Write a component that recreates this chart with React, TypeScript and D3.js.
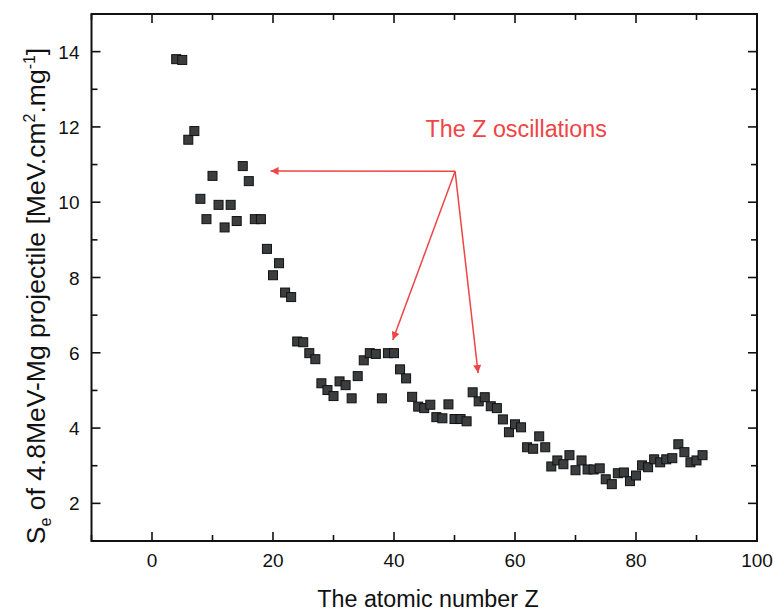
import React from "react";
import * as d3 from "d3";

const atomicNumbers = [
  4, 5, 6, 7, 8, 9, 10, 11, 12, 13, 14, 15, 16, 17, 18, 19, 20, 21, 22, 23,
  24, 25, 26, 27, 28, 29, 30, 31, 32, 33, 34, 35, 36, 37, 38, 39, 40, 41, 42, 43,
  44, 45, 46, 47, 48, 49, 50, 51, 52, 53, 54, 55, 56, 57, 58, 59, 60, 61, 62, 63,
  64, 65, 66, 67, 68, 69, 70, 71, 72, 73, 74, 75, 76, 77, 78, 79, 80, 81, 82, 83,
  84, 85, 86, 87, 88, 89, 90, 91,
];
const stoppingPower = [
  13.8, 13.78, 11.66, 11.89, 10.09, 9.55, 10.7, 9.93, 9.33, 9.93, 9.5, 10.96, 10.56, 9.55, 9.55, 8.76, 8.06, 8.38, 7.6, 7.48,
  6.3, 6.28, 5.99, 5.83, 5.19, 5.01, 4.85, 5.24, 5.14, 4.79, 5.38, 5.8, 5.99, 5.97, 4.79, 5.99, 5.99, 5.56, 5.32, 4.83,
  4.57, 4.53, 4.62, 4.29, 4.26, 4.63, 4.24, 4.24, 4.18, 4.95, 4.71, 4.82, 4.58, 4.53, 4.23, 3.89, 4.1, 4.02, 3.49, 3.45,
  3.78, 3.49, 2.98, 3.14, 3.04, 3.28, 2.88, 3.14, 2.9, 2.9, 2.93, 2.64, 2.51, 2.8, 2.82, 2.59, 2.74, 3.01, 2.96, 3.17,
  3.09, 3.17, 3.2, 3.57, 3.36, 3.09, 3.14, 3.28,
];
const xTicks = [0, 20, 40, 60, 80, 100];
const yTicks = [2, 4, 6, 8, 10, 12, 14];
const annotationText = "The Z oscillations";
// arrow origin and tips, in data units
const arrowOrigin = [50.1, 10.82];
const arrowTips = [
  [19.6, 10.83],
  [39.8, 6.34],
  [53.9, 5.46],
];

const W = 773;
const H = 616;
const FONT = "'Liberation Sans', Arial, sans-serif";
const RED = "#ee4545";

export default function App() {
  const x = d3.scaleLinear().domain([-10, 100]).range([91.5, 757]);
  const y = d3.scaleLinear().domain([1, 15]).range([541, 14]);
  const [x0, x1] = x.range();
  const [y0, y1] = y.range();
  const minorX = d3.range(-10, 101, 10);
  const minorY = d3.range(1, 16, 1);
  const data = atomicNumbers.map((z, i) => ({ z, s: stoppingPower[i] }));
  const ms = 9;
  const ox = x(arrowOrigin[0]);
  const oy = y(arrowOrigin[1]);

  return (
    <svg
      width={W}
      height={H}
      style={{ position: "absolute", left: 0, top: 0, background: "#fff" }}
      fontFamily={FONT}
    >
      <defs>
        <marker id="ah" viewBox="0 0 10 10" refX="10" refY="5" markerWidth="10" markerHeight="8" orient="auto" markerUnits="userSpaceOnUse">
          <path d="M0,0 L10,5 L0,10 z" fill={RED} />
        </marker>
      </defs>
      <rect x={0} y={0} width={W} height={H} fill="#fff" />
      {/* ticks */}
      {minorX.map((v) => {
        const major = v % 20 === 0;
        const len = major ? 9 : 6;
        return (
          <g key={"xt" + v}>
            <line x1={x(v)} x2={x(v)} y1={y0} y2={y0 - len} stroke="#111" strokeWidth={1.6} />
            <line x1={x(v)} x2={x(v)} y1={y1} y2={y1 + len} stroke="#111" strokeWidth={1.6} />
          </g>
        );
      })}
      {minorY.map((v) => {
        const major = v % 2 === 0;
        const len = major ? 9 : 6;
        return (
          <g key={"yt" + v}>
            <line x1={x0} x2={x0 + len} y1={y(v)} y2={y(v)} stroke="#111" strokeWidth={1.6} />
            <line x1={x1} x2={x1 - len} y1={y(v)} y2={y(v)} stroke="#111" strokeWidth={1.6} />
          </g>
        );
      })}
      <rect x={x0} y={y1} width={x1 - x0} height={y0 - y1} fill="none" stroke="#111" strokeWidth={2} />
      {/* tick labels */}
      {xTicks.map((v) => (
        <text key={"xl" + v} x={x(v)} y={y0 + 26} textAnchor="middle" fontSize={19} fill="#111">
          {v}
        </text>
      ))}
      {yTicks.map((v) => (
        <text key={"yl" + v} x={x0 - 12} y={y(v) + 7} textAnchor="end" fontSize={19} fill="#111">
          {v}
        </text>
      ))}
      {/* axis titles */}
      <text x={428} y={607} textAnchor="middle" fontSize={23.3} fill="#111">
        The atomic number Z
      </text>
      <text transform={`translate(45,${296}) rotate(-90)`} textAnchor="middle" fontSize={26.5} fill="#111">
        S<tspan fontSize={16} dy={6}>e</tspan>
        <tspan dy={-6}> of 4.8MeV-Mg projectile [MeV.cm</tspan>
        <tspan fontSize={16} dy={-10}>2</tspan>
        <tspan dy={10}>.mg</tspan>
        <tspan fontSize={16} dy={-10}>-1</tspan>
        <tspan dy={10}>]</tspan>
      </text>
      {/* data */}
      {data.map((d) => (
        <rect
          key={"p" + d.z}
          x={x(d.z) - ms / 2}
          y={y(d.s) - ms / 2}
          width={ms}
          height={ms}
          fill="#3b3d3e"
          stroke="#111"
          strokeWidth={1}
        />
      ))}
      {/* annotation */}
      <text x={x(60.2)} y={y(11.72)} textAnchor="middle" fontSize={23.3} fill={RED}>
        {annotationText}
      </text>
      {arrowTips.map((t, i) => (
        <line
          key={"ar" + i}
          x1={ox}
          y1={oy}
          x2={x(t[0])}
          y2={y(t[1])}
          stroke={RED}
          strokeWidth={1.5}
          markerEnd="url(#ah)"
        />
      ))}
    </svg>
  );
}
